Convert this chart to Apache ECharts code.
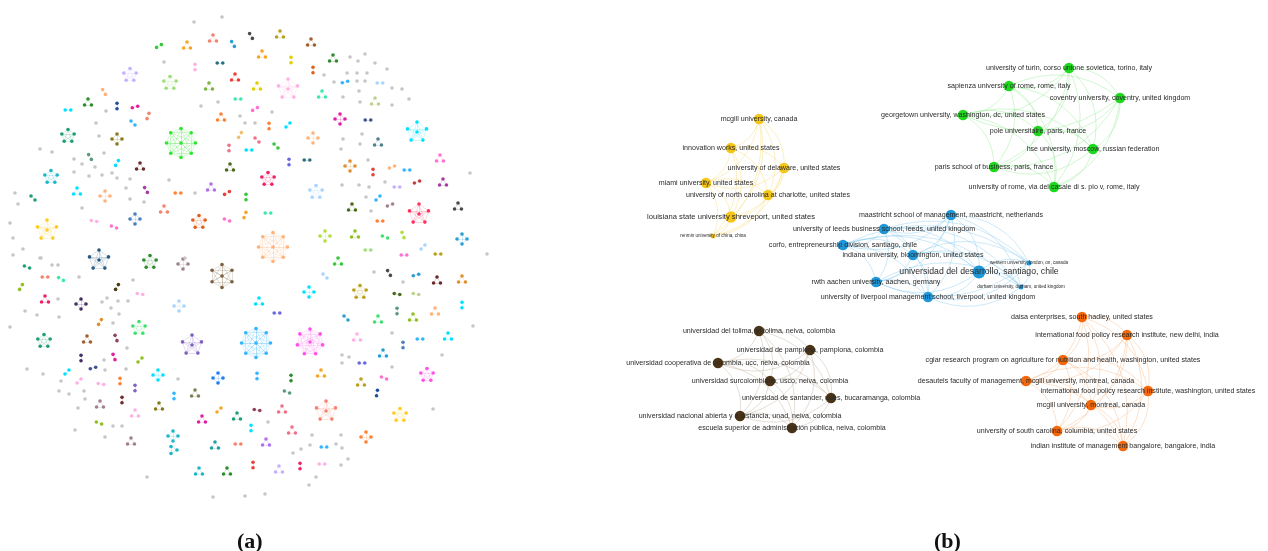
<!DOCTYPE html>
<html>
<head>
<meta charset="utf-8">
<script src="https://cdn.jsdelivr.net/npm/echarts@6/dist/echarts.min.js"></script>
<style>html,body{margin:0;padding:0;background:#fff}#c{width:1268px;height:551px}</style>
</head>
<body>
<div id="c"></div>
<script>
// ---------- Panel (a): small co-authorship clusters [x, y, nodeCount, orientationDeg, group] ----------
const clustersA = [
[213,39,3,0,'salmon'],[251,36,2,60,'dark'],[233,44,2,60,'blue'],[159,46,2,-30,'green'],[187,46,3,0,'orange'],
[220,63,2,0,'dteal'],[195,67,2,90,'lpink'],[130,75,5,0,'lav'],[170,83,5,0,'lgreen'],[235,78,3,0,'red'],
[209,87,3,0,'olive'],[104,92,2,60,'peach'],[88,103,3,0,'dgreen'],[117,106,2,90,'navy'],[135,107,2,-15,'mag'],
[148,116,2,110,'salmon'],[68,110,2,0,'cyan'],[238,99,2,0,'mint'],[221,118,3,0,'orng'],[133,123,2,45,'sky'],
[240,135,2,120,'tan'],[68,136,5,0,'jade'],[117,139,4,0,'khaki'],[181,143,9,0,'lime'],[229,148,2,90,'rose'],
[249,150,2,0,'cyan'],[90,157,2,60,'sage'],[117,163,2,120,'cyan'],[140,167,3,0,'maroon'],[230,168,3,0,'moss'],
[51,177,5,0,'aqua'],[211,188,3,0,'purple'],[146,190,2,60,'plum'],[77,192,3,0,'cyan'],[105,196,4,0,'peach'],
[178,193,2,0,'orng'],[227,193,2,-30,'red'],[246,197,2,90,'green'],[33,198,2,45,'jade'],[164,210,3,0,'salmon'],
[199,222,5,0,'brick'],[135,219,4,0,'steel'],[94,221,2,10,'lpink'],[114,227,2,20,'pink'],[227,220,2,20,'pink'],
[245,215,2,110,'orange'],[47,230,6,0,'yellow'],[99,260,6,0,'dsteel'],[150,262,5,0,'dgreen'],
[27,267,2,20,'jade'],[45,277,2,0,'salmon'],[61,279,2,30,'mint'],[183,264,4,0,'mauve'],[222,276,7,0,'brown'],
[21,287,2,120,'chart'],[45,300,3,0,'crimson'],[81,304,4,0,'dpurple'],[117,287,2,120,'dolive'],[140,294,2,10,'lpink'],
[179,306,4,0,'ice'],[100,322,2,120,'amber'],[139,328,5,0,'seafoam'],[44,341,5,0,'jade'],[87,340,3,0,'rust'],
[116,338,2,70,'wine'],[192,345,6,0,'violet'],[81,358,2,90,'dpurple'],[114,357,2,70,'mag'],[140,360,2,-45,'chart'],
[93,368,2,-15,'indigo'],[67,372,2,-45,'cyan'],[158,375,4,0,'cyan'],[218,378,4,0,'blue2'],[79,381,2,-45,'lpink'],
[101,384,2,10,'lpink'],[120,381,2,90,'orng'],[135,388,2,90,'violet'],[174,396,2,90,'sky'],[195,394,3,0,'sage2'],
[100,405,3,0,'mauve'],[122,400,2,90,'maroon'],[159,407,3,0,'khaki'],[135,414,3,0,'lpink'],[219,410,2,-45,'orange'],
[202,420,3,0,'mag'],[237,417,3,0,'jade'],[99,423,2,20,'chart'],[173,436,4,90,'aqua'],[173,450,3,90,'aqua'],
[131,442,3,0,'mauve'],[215,446,3,0,'teal'],[238,444,2,0,'salmon'],[199,472,3,0,'aqua'],[227,472,3,0,'dgreen'],
[253,465,2,90,'red'],
[280,35,3,0,'mustard'],[311,43,3,0,'rust'],[262,55,3,0,'orange'],[291,60,2,90,'yellow2'],[333,59,3,0,'dgreen'],
[313,70,2,90,'brick'],[345,82,2,-15,'sky'],[380,83,2,0,'ice'],[257,87,3,0,'yellow2'],[288,89,6,0,'lpink'],
[322,95,3,0,'mint'],[375,102,3,0,'pale'],[255,109,2,-30,'pink'],[340,119,4,0,'mag'],[368,120,2,0,'indigo'],
[269,126,2,90,'orng'],[288,125,2,-45,'cyan'],[417,132,6,0,'cyan'],[313,138,4,0,'peach'],[257,140,2,45,'rose'],
[276,146,2,45,'green'],[378,143,3,0,'steel2'],[289,162,2,90,'violet2'],[307,160,2,0,'dteal'],[350,166,4,0,'amber'],
[373,172,2,90,'red'],[392,167,2,-20,'peach'],[407,170,2,0,'sky'],[440,159,3,0,'pink'],[268,179,5,0,'crimson'],
[316,192,5,0,'ice'],[397,187,2,0,'lav'],[417,182,2,-20,'maroon2'],[443,183,3,0,'plum'],[378,198,2,-45,'sky'],
[390,205,2,-20,'mauve'],[352,208,3,0,'moss'],[419,214,6,0,'crimson2'],[458,207,3,0,'dark'],[268,213,2,0,'mint'],
[380,221,2,0,'orng'],[325,236,4,0,'yg'],[355,235,3,0,'chart'],[385,237,2,20,'seafoam'],[403,235,2,70,'yg'],
[462,239,4,0,'blue'],[423,247,2,-45,'ice'],[438,254,2,0,'mustard'],[273,247,9,0,'peach'],[368,250,2,0,'lgreen'],
[404,255,2,0,'pink'],[338,262,3,0,'green'],
[325,276,2,45,'ice'],[389,273,2,60,'dark'],[416,275,2,-15,'blue'],[437,281,3,0,'maroon'],[462,280,3,0,'amber'],
[309,292,4,0,'cyan'],[360,292,5,0,'mustard'],[397,294,2,10,'moss'],[416,294,2,10,'pale'],[259,302,3,0,'cyan'],
[277,313,2,0,'violet2'],[346,318,2,45,'blue'],[378,320,3,0,'seafoam'],[397,311,2,90,'sage'],[413,318,3,0,'chart'],
[435,312,3,0,'peach'],[462,305,2,90,'cyan'],[256,343,9,0,'sky'],[257,376,2,90,'sky'],[310,342,8,0,'mag2'],
[357,338,3,0,'lpink'],[403,345,2,90,'steel'],[420,339,2,0,'sky'],[448,337,3,0,'cyan'],[383,354,3,0,'blue'],
[362,363,2,0,'violet2'],[427,375,5,0,'mag2'],[321,374,3,0,'orange'],[291,378,2,90,'dgreen'],[384,378,2,20,'pink'],
[361,383,3,0,'mustard'],[377,393,2,100,'navy'],[287,392,2,20,'sage'],[326,411,6,0,'salmon'],[257,410,2,10,'wine'],
[282,410,3,0,'rose'],[400,415,5,0,'yellow'],[292,431,3,0,'rose'],[366,437,4,0,'orng'],[266,443,3,0,'purple'],
[324,447,2,0,'sky'],[279,470,3,0,'lav'],[300,466,2,90,'crimson'],[322,464,2,0,'lpink'],[251,428,2,90,'cyan']
];

// isolated (unlinked) authors in panel (a): [x, y]
const isolatesA = [
[222,17],[194,22],[164,62],[106,111],[201,106],[218,102],[240,116],[245,123],[96,123],[99,136],[40,149],[52,152],
[104,153],[74,159],[82,164],[95,167],[74,172],[89,176],[102,175],[112,173],[117,178],[130,179],[169,180],[126,188],
[195,193],[15,193],[18,204],[130,199],[144,202],[82,208],[10,223],[13,238],[23,249],[13,255],[40,258],[185,258],
[41,258],[52,265],[58,265],[79,277],[133,280],[58,299],[107,298],[102,302],[118,301],[128,301],[111,308],[119,314],
[25,311],[37,315],[59,317],[10,327],[113,323],[127,348],[104,360],[105,370],[126,369],[27,369],[43,374],[61,381],
[178,379],[59,391],[69,394],[84,391],[85,399],[78,408],[113,426],[122,426],[75,430],[105,437],[147,477],[213,497],
[245,496],[350,57],[358,61],[365,54],[375,63],[387,69],[324,75],[334,82],[347,73],[357,73],[367,73],[357,81],
[365,81],[343,97],[359,91],[392,88],[402,89],[409,99],[392,105],[360,102],[272,112],[255,123],[343,139],[360,144],
[341,149],[362,134],[368,160],[470,173],[342,185],[359,185],[369,187],[385,182],[366,197],[371,211],[487,254],
[374,272],[403,282],[473,326],[392,333],[342,355],[349,357],[342,363],[392,367],[442,355],[433,409],[268,422],
[312,435],[310,445],[301,449],[293,453],[341,435],[336,444],[342,448],[348,459],[341,465],[316,477],[309,485],[265,494]
];

// ---------- Panel (b): labelled institution network [x, y, weight, cluster, label] ----------
const nodesB = [
[759,119,2,0,'mcgill university, canada'],
[731,148,2,0,'innovation works, united states'],
[784,168,2,0,'university of delaware, united states'],
[706,183,2,0,'miami university, united states'],
[768,195,2,0,'university of north carolina at charlotte, united states'],
[731,217,3,0,'louisiana state university shreveport, united states'],
[713,236,1,0,'renmin university of china, china'],
[1069,68,2,1,'university of turin, corso unione sovietica, torino, italy'],
[1009,86,2,1,'sapienza university of rome, rome, italy'],
[1120,98,2,1,'coventry university, coventry, united kingdom'],
[963,115,2,1,'georgetown university, washington, dc, united states'],
[1038,131,2,1,'pole universitaire, paris, france'],
[1093,149,2,1,'hse university, moscow, russian federation'],
[994,167,2,1,'paris school of business, paris, france'],
[1054,187,2,1,'university of rome, via del casale di s. pio v, rome, italy'],
[951,215,2,2,'maastricht school of management, maastricht, netherlands'],
[884,229,2,2,'university of leeds business school, leeds, united kingdom'],
[843,245,2,2,'corfo, entrepreneurship division, santiago, chile'],
[913,255,2,2,'indiana university, bloomington, united states'],
[979,272,4,2,'universidad del desarrollo, santiago, chile'],
[1029,263,1,2,'western university, london, on, canada'],
[876,282,2,2,'rwth aachen university, aachen, germany'],
[1021,287,1,2,'durham university, durham, united kingdom'],
[928,297,2,2,'university of liverpool management school, liverpool, united kingdom'],
[759,331,2,3,'universidad del tolima, el tolima, neiva, colombia'],
[810,350,2,3,'universidad de pamplona, pamplona, colombia'],
[718,363,2,3,'universidad cooperativa de colombia, ucc, neiva, colombia'],
[770,381,2,3,'universidad surcolombiana, usco, neiva, colombia'],
[831,398,2,3,'universidad de santander, udes, bucaramanga, colombia'],
[740,416,2,3,'universidad nacional abierta y a distancia, unad, neiva, colombia'],
[792,428,2,3,'escuela superior de administración pública, neiva, colombia'],
[1082,317,2,4,'daisa enterprises, south hadley, united states'],
[1127,335,2,4,'international food policy research institute, new delhi, india'],
[1063,360,2,4,'cgiar research program on agriculture for nutrition and health, washington, united states'],
[1026,381,2,4,'desautels faculty of management, mcgill university, montreal, canada'],
[1148,391,2,4,'international food policy research institute, washington, united states'],
[1091,405,2,4,'mcgill university, montreal, canada'],
[1057,431,2,4,'university of south carolina, columbia, united states'],
[1123,446,2,4,'indian institute of management bangalore, bangalore, india']
];

const captions = ['a', 'b'];

// ---------- styles ----------
const paletteA = {
  salmon:'#f4826e', dark:'#4a4a4a', blue:'#2a9fd6', green:'#36c83a', orange:'#f5a623', dteal:'#2a6f7f',
  lpink:'#ffb0e4', lav:'#c6b0ff', lgreen:'#9de07a', red:'#e8413a', olive:'#7cb342', peach:'#ffb27a',
  dgreen:'#2e8b2e', navy:'#1f4e9a', mag:'#e020a0', cyan:'#00e1ff', mint:'#3de8b0', orng:'#ff8030',
  sky:'#33b4ff', tan:'#f0c070', jade:'#20a070', khaki:'#8a7a1a', lime:'#2ee62e', rose:'#f0708a',
  sage:'#5a9a7a', maroon:'#6a2a2a', moss:'#4a6a1a', aqua:'#1ab8c8', purple:'#b070f0', plum:'#a040a0',
  brick:'#e06020', steel:'#4a80c0', pink:'#ff70d0', yellow:'#ffcc20', dsteel:'#2a5a80', mauve:'#a08090',
  brown:'#7a6040', chart:'#90c020', crimson:'#f0206a', dpurple:'#403060', dolive:'#4a3a10', ice:'#a8d4ff',
  amber:'#e09030', seafoam:'#40e070', rust:'#a06030', wine:'#904060', violet:'#8060c0', indigo:'#405090',
  blue2:'#1e80f0', sage2:'#808050', teal:'#20a0a0', mustard:'#b8a020', yellow2:'#e0d000', pale:'#c0d090',
  steel2:'#508090', violet2:'#6868e0', maroon2:'#c04040', crimson2:'#ff3060', yg:'#b0e040', mag2:'#ff50e8',
  gray:'#c6c6c6'
};
const paletteB = ['#f5c518', '#1ed81e', '#1e96d8', '#4a3418', '#f2680a'];
const edgeB = ['#f7d660', '#8ae88a', '#7cc4ec', '#b8a890', '#f7b07a'];

// ---------- build panel (a) ----------
const nodesAData = [], linksAData = [];
function ringRadius(n){ return n===2 ? 2.8 : n===3 ? 4 : n===4 ? 5 : n===5 ? 6.5 : 1.5*n+1; }
clustersA.forEach(function(c){
  const x=c[0], y=c[1], n=c[2], ang=c[3]*Math.PI/180, col=paletteA[c[4]];
  const start = nodesAData.length, pts = [];
  const ringN = n>=6 ? n-1 : n, r = ringRadius(n);
  for (let i=0;i<ringN;i++){
    const t = ang + (n===2 ? i*Math.PI : -Math.PI/2 + i*2*Math.PI/ringN);
    pts.push([x + r*Math.cos(t), y + r*Math.sin(t)]);
  }
  if (n>=6) pts.push([x, y]);
  pts.forEach(function(p){ nodesAData.push({value:p, itemStyle:{color:col}}); });
  for (let i=0;i<pts.length;i++) for (let j=i+1;j<pts.length;j++)
    linksAData.push({source:start+i, target:start+j, lineStyle:{color:col}});
});
isolatesA.forEach(function(p){ nodesAData.push({value:p, itemStyle:{color:paletteA.gray}}); });

// ---------- build panel (b) ----------
const sizeB = {1:5, 2:10.5, 3:11.5, 4:13};
const fontB = {1:4.6, 2:7.1, 3:7.6, 4:8.7};
const nodesBData = nodesB.map(function(d){
  return {value:[d[0], d[1]], name:d[4], symbolSize:sizeB[d[2]],
    itemStyle:{color:paletteB[d[3]]},
    label:{show:true, position:'inside', formatter:d[4], fontSize:fontB[d[2]], color:'#2a2a2a',
      fontFamily:'Liberation Sans, Arial, sans-serif'}};
});
const linksBData = [];
for (let i=0;i<nodesB.length;i++) for (let j=i+1;j<nodesB.length;j++){
  if (nodesB[i][3]===nodesB[j][3]) linksBData.push({source:i, target:j, lineStyle:{color:edgeB[nodesB[i][3]]}});
}

const chart = echarts.init(document.getElementById('c'), null, {renderer:'canvas'});
chart.setOption({
  backgroundColor:'#ffffff',
  animation:false,
  grid:{left:0, right:0, top:0, bottom:0},
  xAxis:{type:'value', min:0, max:1268, show:false},
  yAxis:{type:'value', min:0, max:551, inverse:true, show:false},
  title: captions.map(function(t, i){
    return {text:'{p|(}{b|' + t + '}{p|)}', left: i===0 ? 232 : 929, top:526,
      textStyle:{rich:{
        p:{fontFamily:'Liberation Serif, serif', fontSize:22, color:'#111'},
        b:{fontFamily:'Liberation Serif, serif', fontSize:22, fontWeight:'bold', color:'#111'}}}};
  }),
  series:[
    {type:'graph', coordinateSystem:'cartesian2d', xAxisIndex:0, yAxisIndex:0, silent:true,
     symbol:'circle', symbolSize:3.6, data:nodesAData, links:linksAData,
     lineStyle:{width:0.6, opacity:0.35, curveness:0}, label:{show:false}},
    {type:'graph', coordinateSystem:'cartesian2d', xAxisIndex:0, yAxisIndex:0, silent:true,
     symbol:'circle', data:nodesBData, links:linksBData,
     lineStyle:{width:0.7, opacity:0.55, curveness:0.3}}
  ]
});
</script>
</body>
</html>
